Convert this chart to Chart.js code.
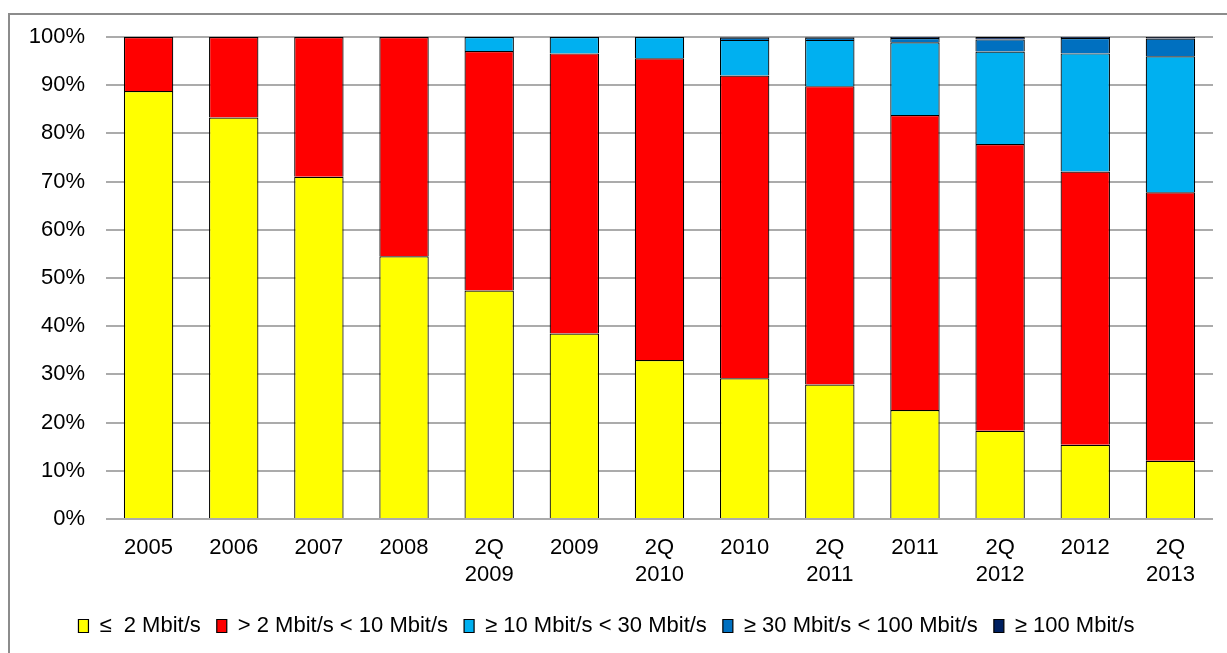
<!DOCTYPE html>
<html>
<head>
<meta charset="utf-8">
<script src="https://cdn.jsdelivr.net/npm/chart.js@4/dist/chart.umd.min.js"></script>
<style>
    html, body { margin: 0; padding: 0; background: #fff; overflow: hidden; }
    #wrap { position: relative; width: 1227px; height: 653px; }
    #frame { position: absolute; left: 8px; top: 13px; width: 1240px; height: 660px;
             border-left: 2px solid #8c8c8c; border-top: 2px solid #8c8c8c; }
    canvas { position: absolute; left: 0; top: 0; }
</style>
</head>
<body>
<div id="wrap">
    <div id="frame"></div>
    <canvas id="chart" width="1227" height="653"></canvas>
</div>
<script>
// Catégories (axe X)
const categories = [
    '2005', '2006', '2007', '2008', ['2Q', '2009'], '2009', ['2Q', '2010'],
    '2010', ['2Q', '2011'], '2011', ['2Q', '2012'], '2012', ['2Q', '2013']
];

// Parts en % par classe de débit
const upTo2 = [88.8, 83.3, 71.0, 54.5, 47.4, 38.5, 33.0, 29.2, 27.9, 22.6, 18.3, 15.4, 12.1];
const from2to10 = [11.2, 16.7, 29.0, 45.5, 49.7, 58.1, 62.6, 62.8, 61.9, 61.2, 59.5, 56.7, 55.7];
const from10to30 = [null, null, null, null, 2.9, 3.4, 4.4, 7.4, 9.6, 15.1, 19.2, 24.5, 28.2];
const from30to100 = [null, null, null, null, null, null, null, 0.5, 0.5, 0.9, 2.5, 3.2, 3.7];
const over100 = [null, null, null, null, null, null, null, 0.1, 0.1, 0.2, 0.5, 0.2, 0.3];

const yTicks = [0, 10, 20, 30, 40, 50, 60, 70, 80, 90, 100];

const FONT = "'Liberation Sans', Arial, sans-serif";

function serie(label, data, color) {
    return {
        label: label,
        data: data,
        backgroundColor: color,
        borderColor: '#000000',
        borderWidth: 1.2,
        barPercentage: 0.58,
        categoryPercentage: 1.0
    };
}

new Chart(document.getElementById('chart'), {
    type: 'bar',
    data: {
        labels: categories,
        datasets: [
            serie('\u2264  2 Mbit/s', upTo2, '#FFFF00'),
            serie('> 2 Mbit/s < 10 Mbit/s', from2to10, '#FF0000'),
            serie('\u2265 10 Mbit/s < 30 Mbit/s', from10to30, '#00B0F0'),
            serie('\u2265 30 Mbit/s < 100 Mbit/s', from30to100, '#0070C0'),
            serie('\u2265 100 Mbit/s', over100, '#002060')
        ]
    },
    options: {
        responsive: false,
        animation: false,
        layout: { padding: { top: 37, right: 14, bottom: 6, left: 0 } },
        scales: {
            x: {
                stacked: true,
                grid: { display: false, drawTicks: false },
                border: { display: false },
                ticks: { color: '#000', font: { family: FONT, size: 22 }, padding: 16, maxRotation: 0, autoSkip: false },
                afterFit: s => { s.height = 80; }
            },
            y: {
                stacked: true,
                min: 0,
                max: 100,
                afterBuildTicks: s => { s.ticks = yTicks.map(v => ({ value: v })); },
                grid: { color: '#ababab', lineWidth: 2, drawTicks: false },
                border: { display: false },
                ticks: { color: '#000', font: { family: FONT, size: 22 }, padding: 21, callback: v => v + '%' },
                afterFit: s => { s.width = 106; }
            }
        },
        plugins: {
            legend: {
                position: 'bottom',
                labels: {
                    color: '#000',
                    font: { family: FONT, size: 22 },
                    boxWidth: 10,
                    boxHeight: 13,
                    padding: 16
                }
            },
            tooltip: { enabled: false }
        }
    }
});
</script>
</body>
</html>
